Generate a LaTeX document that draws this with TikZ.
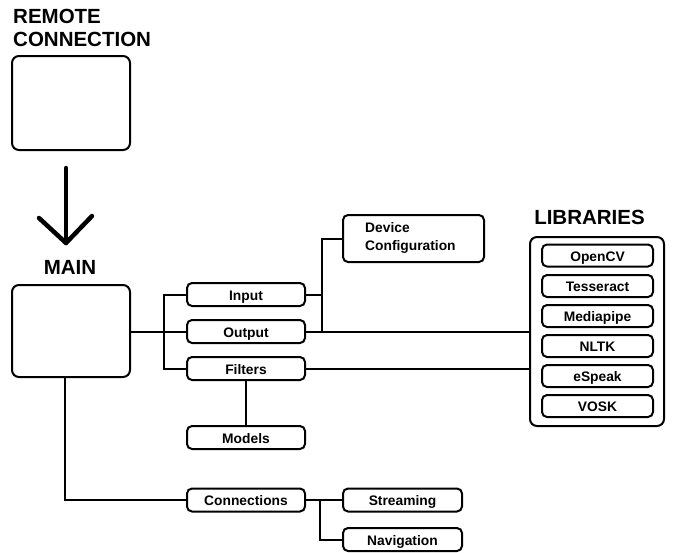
\documentclass[tikz,border=0pt]{standalone}
\usepackage{fontspec}
\setmainfont{Liberation Sans}
\usetikzlibrary{positioning}
\tikzset{
  boxline/.style={line width=2pt},
  smallbox/.style={draw, boxline, rounded corners=5pt, fill=white, minimum width=118pt, minimum height=23pt, inner sep=0pt, text height=12pt, text depth=0.2pt, font=\fontsize{13.8}{16}\selectfont\bfseries},
  libbox/.style={smallbox, minimum width=111pt, minimum height=22pt},
  bigbox/.style={draw, boxline, rounded corners=7pt, fill=white, minimum width=118pt, inner sep=0pt},
  titletext/.style={font=\fontsize{20.5}{23.5}\selectfont\bfseries, inner sep=0pt},
  conn/.style={line width=2pt},
  bigarrow/.style={line width=4.5pt, line cap=round, line join=round}
}
\begin{document}
\begin{tikzpicture}[x=1pt,y=-1pt]
\useasboundingbox (0,0) rectangle (677,552);
% remote connection
\node[titletext, align=left, anchor=north west] (rtitle) at (13,8.5) {REMOTE\\CONNECTION};
\node[bigbox, minimum height=94pt] (remote) at (71,103) {};
% arrow
\coordinate (atop) at (66,168);
\coordinate (atip) at (66,243);
\coordinate (aleft) at (39,218);
\coordinate (aright) at (92,216);
\draw[bigarrow] (atop) -- (atip);
\draw[bigarrow] (aleft) -- (atip) -- (aright);
% main
\node[titletext] (mtitle) at (70,267.5) {MAIN};
\node[bigbox, minimum height=92pt] (main) at (71,331) {};
% first level
\node[smallbox] (input) at (246,294.5) {Input};
\node[smallbox] (output) at (246,331.5) {Output};
\node[smallbox] (filters) at (246,368.5) {Filters};
\node[smallbox] (models) at (246,437.5) {Models};
\node[smallbox] (connections) at (246,500) {Connections};
\node[smallbox, minimum width=119pt] (streaming) at (402.5,500) {Streaming};
\node[smallbox, minimum width=119pt] (navigation) at (402.5,539.5) {Navigation};
\node[smallbox, minimum width=141pt, minimum height=47pt] (device) at (413.5,238.5) {};
\node[anchor=west, align=left, inner sep=0pt, font=\fontsize{13.8}{18}\selectfont\bfseries] (devtext) at (365,237.5) {Device\\Configuration};
% libraries
\node[titletext] (ltitle) at (589.5,217.5) {LIBRARIES};
\node[draw, boxline, rounded corners=7pt, minimum width=134pt, minimum height=189pt, inner sep=0pt] (libs) at (597,331.5) {};
\node[libbox] (opencv) at (597.5,255.5) {OpenCV};
\node[libbox] (tesseract) at (597.5,286) {Tesseract};
\node[libbox] (mediapipe) at (597.5,316) {Mediapipe};
\node[libbox] (nltk) at (597.5,346) {NLTK};
\node[libbox] (espeak) at (597.5,376) {eSpeak};
\node[libbox] (vosk) at (597.5,406) {VOSK};
% connectors
\coordinate (busA) at (164,331.5);
\coordinate (busB) at (322,331.5);
\coordinate (busC) at (320,500);
\coordinate (mainleg) at (65,377);
\draw[conn] (main.east |- output.west) -- (output.west);
\draw[conn] (input.west) -| (busA) |- (filters.west);
\draw[conn] (busA) -- (busA |- filters.west);
\draw[conn] (input.east) -- (input.east -| busB);
\draw[conn] (device.west) -| (busB);
\draw[conn] (output.east) -- (output.east -| libs.west);
\draw[conn] (filters.east) -- (filters.east -| libs.west);
\draw[conn] (filters.south) -- (models.north);
\draw[conn] (mainleg) |- (connections.west);
\draw[conn] (connections.east) -- (streaming.west);
\draw[conn] (busC) |- (navigation.west);
\end{tikzpicture}
\end{document}
